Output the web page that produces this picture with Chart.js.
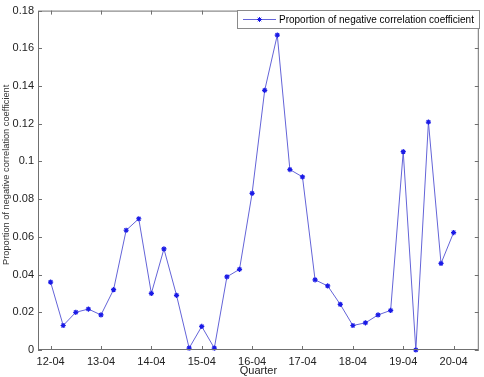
<!DOCTYPE html>
<html>
<head>
<meta charset="utf-8">
<script src="https://cdn.jsdelivr.net/npm/chart.js@4.4.1/dist/chart.umd.min.js"></script>
<style>
  html, body { margin: 0; padding: 0; background: #fff; }
  #wrap { width: 484px; height: 377px; position: relative; }
</style>
</head>
<body>
<div id="wrap"><canvas id="chart"></canvas></div>
<script>
// --- Data ---
const quarterIndex = [0,1,2,3,4,5,6,7,8,9,10,11,12,13,14,15,16,17,18,19,20,21,22,23,24,25,26,27,28,29,30,31,32];
const proportion = [0.036,0.013,0.020,0.0217,0.0186,0.032,0.0635,0.0696,0.030,0.0536,0.029,0.001,0.0125,0.001,0.0388,0.0428,
                    0.0831,0.1377,0.167,0.0957,0.0918,0.0372,0.034,0.0242,0.013,0.0144,0.0186,0.021,0.1052,0.0,0.1209,0.0459,0.0623];
const tickPositions = [0,4,8,12,16,20,24,28,32];
const tickLabels = ['12-04','13-04','14-04','15-04','16-04','17-04','18-04','19-04','20-04'];
const seriesName = 'Proportion of negative correlation coefficient';
const yTitle = 'Proportion of negative correlation coefficient';
const xTitle = 'Quarter';

const axisColor = '#707070';
const fontFamily = 'Arial, "Liberation Sans", sans-serif';

// fit a string into a width by picking the font size
function fitFont(ctx, text, width, maxSize) {
    let size = maxSize;
    ctx.font = size + 'px ' + fontFamily;
    while (ctx.measureText(text).width > width && size > 6) {
        size -= 0.25;
        ctx.font = size + 'px ' + fontFamily;
    }
}

// --- Inward ticks, box, titles, legend ---
const matlabLook = {
    id: 'matlabLook',
    afterDraw(chart) {
        const ctx = chart.ctx;
        const a = chart.chartArea;
        const xs = chart.scales.x, ys = chart.scales.y;
        const len = 4;
        ctx.save();
        ctx.strokeStyle = axisColor;
        ctx.lineWidth = 1;
        ctx.strokeRect(a.left + 0.5, a.top + 0.5, a.right - a.left - 1, a.bottom - a.top - 1);
        ctx.beginPath();
        xs.ticks.forEach(t => {
            const px = Math.round(xs.getPixelForValue(t.value)) + 0.5;
            ctx.moveTo(px, a.bottom); ctx.lineTo(px, a.bottom - len);
            ctx.moveTo(px, a.top); ctx.lineTo(px, a.top + len);
        });
        ys.ticks.forEach(t => {
            const py = Math.round(ys.getPixelForValue(t.value)) + 0.5;
            ctx.moveTo(a.left, py); ctx.lineTo(a.left + len, py);
            ctx.moveTo(a.right, py); ctx.lineTo(a.right - len, py);
        });
        ctx.stroke();

        // axis titles
        ctx.fillStyle = '#222';
        ctx.font = '11px ' + fontFamily;
        ctx.textAlign = 'center';
        ctx.textBaseline = 'middle';
        ctx.fillText(xTitle, (a.left + a.right) / 2, 371);

        ctx.save();
        ctx.beginPath();
        ctx.rect(0, 84, 30, 300);
        ctx.clip();
        ctx.translate(6.5, 265);
        ctx.rotate(-Math.PI / 2);
        ctx.textAlign = 'left';
        ctx.fillStyle = '#333';
        fitFont(ctx, 'Proportion of negative', 91, 11);
        ctx.fillText(yTitle, 0, 0);
        ctx.restore();

        // legend
        const lx = 237, ly = 10, lw = 242, lh = 18;
        ctx.fillStyle = '#fff';
        ctx.fillRect(lx, ly, lw, lh);
        ctx.strokeStyle = '#8a8a8a';
        ctx.strokeRect(lx + 0.5, ly + 0.5, lw, lh);
        ctx.strokeStyle = '#6464d8';
        ctx.beginPath();
        ctx.moveTo(243, ly + 9.5); ctx.lineTo(276, ly + 9.5);
        ctx.stroke();
        ctx.strokeStyle = '#1a1ae6';
        Chart.helpers.drawPoint(ctx, { pointStyle: 'star', radius: 2.5, borderWidth: 1 }, 259.5, ly + 9.5);
        ctx.fillStyle = '#000';
        ctx.textAlign = 'left';
        fitFont(ctx, seriesName, 197, 12);
        ctx.fillText(seriesName, 279, ly + 10);
        ctx.restore();
    }
};

const ctx = document.getElementById('chart').getContext('2d');
new Chart(ctx, {
    type: 'line',
    data: {
        datasets: [{
            label: seriesName,
            data: quarterIndex.map((q, i) => ({ x: q, y: proportion[i] })),
            borderColor: '#6464d8',
            borderWidth: 1,
            pointStyle: 'star',
            pointRadius: 2.6,
            pointBorderColor: '#1a1ae6',
            pointBorderWidth: 1.2,
            pointBackgroundColor: '#1a1ae6',
            tension: 0,
            clip: false
        }]
    },
    options: {
        responsive: true,
        maintainAspectRatio: false,
        animation: false,
        layout: { padding: { top: 5, right: 2, left: 0, bottom: 0 } },
        plugins: { legend: { display: false }, tooltip: { enabled: false } },
        scales: {
            x: {
                type: 'linear',
                min: -1,
                max: 34,
                afterBuildTicks: s => { s.ticks = tickPositions.map(v => ({ value: v })); },
                afterFit: s => { s.height = 27; },
                grid: { display: false, drawTicks: false },
                border: { display: false },
                ticks: {
                    padding: 5,
                    color: '#222',
                    font: { family: fontFamily, size: 11 },
                    callback: v => tickLabels[tickPositions.indexOf(v)] || ''
                }
            },
            y: {
                min: 0,
                max: 0.18,
                afterFit: s => { s.width = 38; },
                grid: { display: false, drawTicks: false },
                border: { display: false },
                ticks: {
                    stepSize: 0.02,
                    padding: 4,
                    color: '#222',
                    font: { family: fontFamily, size: 11 },
                    callback: v => Number(v.toFixed(2)).toString()
                }
            }
        }
    },
    plugins: [matlabLook]
});
</script>
</body>
</html>
